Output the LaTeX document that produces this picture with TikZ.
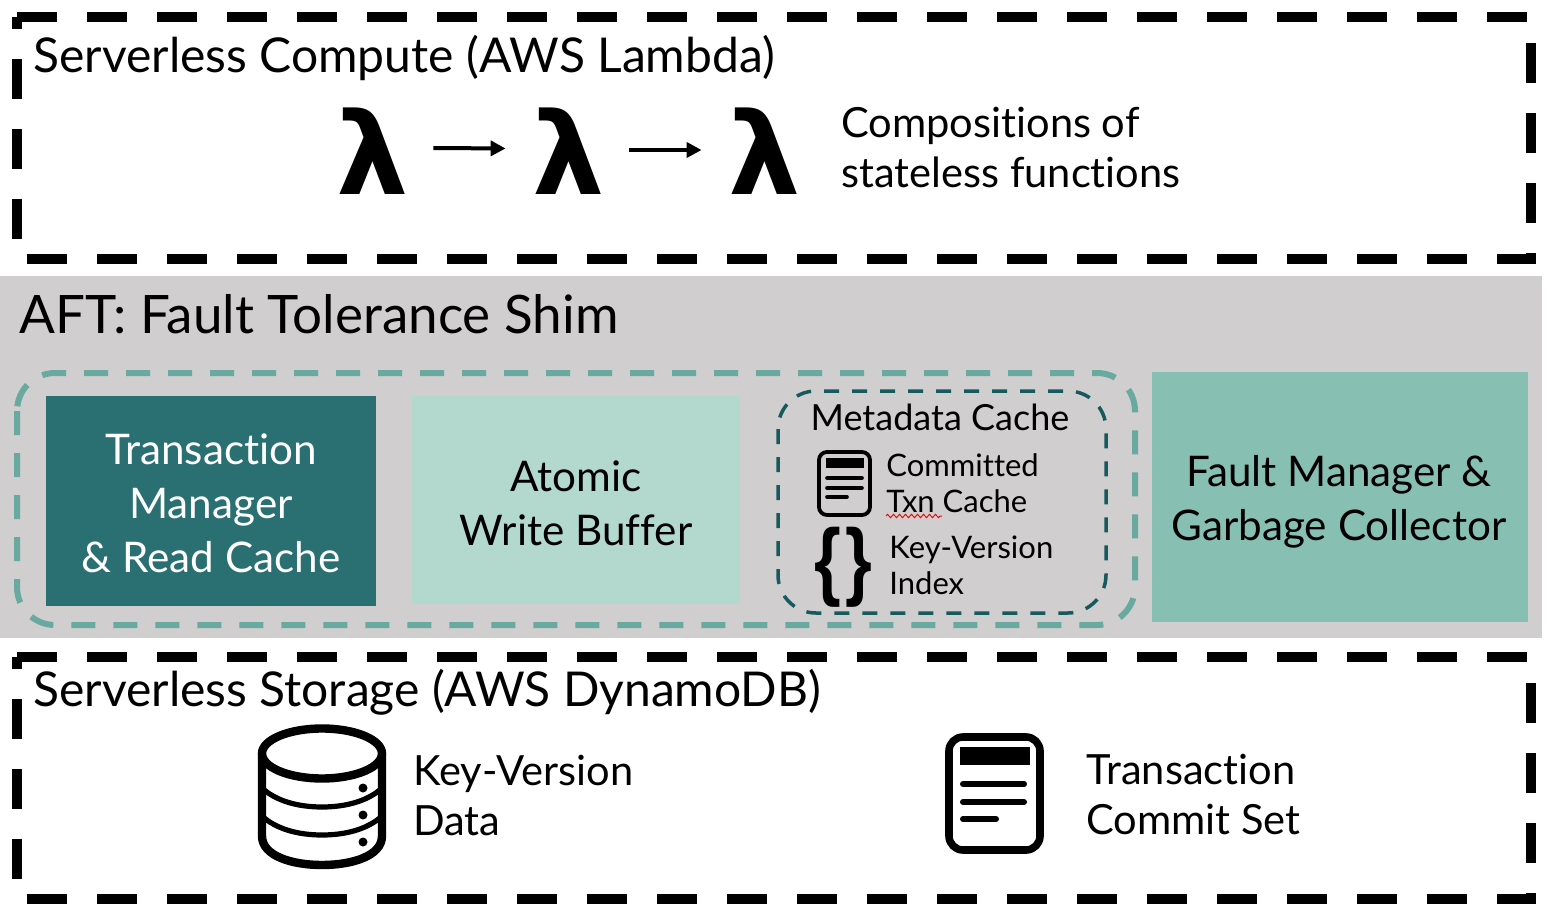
\documentclass[tikz,border=0pt]{standalone}
\usepackage{graphicx}
\usepackage{fontspec}
\setmainfont{Lato}[Ligatures={NoCommon,TeX}]
\newfontfamily\glyphfont{DejaVu Sans}[BoldFont=* Bold]
\newfontfamily\bracefont{Liberation Sans}[BoldFont=* Bold]
\usetikzlibrary{arrows.meta,decorations.pathmorphing}
\definecolor{shimgray}{HTML}{D0CECE}
\definecolor{outerteal}{HTML}{6AA9A0}
\definecolor{innerteal}{HTML}{165A5E}
\definecolor{tmteal}{HTML}{2A7072}
\definecolor{bufgreen}{HTML}{B3D9CE}
\definecolor{faultgreen}{HTML}{87BFB3}
\newcommand{\fs}[2]{\fontsize{#1pt}{#2pt}\selectfont}
\tikzset{
  x=0.5pt,y=-0.5pt,
  tierbox/.style={draw=black,line width=5pt,dash pattern=on 20pt off 15pt,line join=miter},
  title/.style={inner sep=0pt,text=black,font=\fs{24}{30}},
  note/.style={inner sep=0pt,align=left,text=black,font=\fs{20.8}{25}},
  small/.style={inner sep=0pt,align=left,text=black,font=\fs{15.5}{18}},
  boxlabel/.style={inner sep=0pt,align=center,font=\fs{21.1}{27}},
  lam/.style={inner sep=0pt,minimum width=60pt,text height=45pt,text depth=0pt,font=\glyphfont\bfseries\fs{57}{57}},
  flow/.style={draw=black,line width=2pt,-{Triangle[length=7.5pt,width=7.5pt]},shorten >=1.5pt},
  brace/.style={inner sep=0pt,font=\bracefont\bfseries\fs{43}{43}},
  icon/.style={draw=black,line cap=round,line join=round},
}
\begin{document}
\begin{tikzpicture}
\useasboundingbox (0,0) rectangle (1554,920);

% Compute tier
\draw[tierbox] (17,17) -- (1531,17) -- (1531,259) -- (17,259) -- (17,17);
\node[title,anchor=base west] (computetitle) at (33,73) {Serverless Compute (AWS Lambda)};
\node[lam] (l1) at (373,149) {λ};
\node[lam] (l2) at (569,149) {λ};
\node[lam] (l3) at (765,149) {λ};
\draw[flow] ([yshift=0.5pt]l1.east) -- ([yshift=0.25pt]l2.west);
\draw[flow] ([yshift=-0.5pt]l2.east) -- ([yshift=-0.5pt]l3.west);
\node[note,anchor=west] (computenote) at (841,147) {Compositions of\\stateless functions};

% Shim band
\fill[shimgray] (0,276) rectangle (1542,638);
\node[title,font=\fs{26.5}{30},anchor=base west] (shimtitle) at (19,333) {AFT: Fault Tolerance Shim};
\draw[outerteal,line width=3pt,dash pattern=on 12pt off 9pt,rounded corners=19pt] (17,373) rectangle (1135,625);
\fill[tmteal] (46,396) rectangle (376,606);
\node[boxlabel,text=white] (tm) at (211,503) {Transaction\\Manager\\\& Read Cache};
\fill[bufgreen] (412,396) rectangle (740,604);
\node[boxlabel] (awb) at (576,503) {Atomic\\Write Buffer};
\fill[faultgreen] (1152,372) rectangle (1528,622);
\node[boxlabel] (fm) at (1339,502) {Fault Manager \&\\Garbage Collector};

% Metadata cache
\draw[innerteal,line width=1.75pt,dash pattern=on 7.5pt off 6.5pt,rounded corners=19pt] (778,391) rectangle (1106,613);
\node[inner sep=0pt,font=\fs{18}{22}] (mdtitle) at (940,417) {Metadata Cache};
\draw[icon,line width=1.9pt,rounded corners=4pt] (819,452) rectangle (870,515);
\fill[black] (826,458) rectangle (864,468);
\draw[icon,line width=1.8pt] (827,478) -- (862,478);
\draw[icon,line width=1.8pt] (827,488) -- (862,488);
\draw[icon,line width=1.8pt] (827,497) -- (847,497);
\node[small,anchor=west] (txncache) at (886,483) {Committed\\Txn Cache};
\draw[red,line width=0.5pt,decorate,decoration={zigzag,segment length=3pt,amplitude=0.8pt}] (886,516) -- (942,516);
\node[brace] (bl) at (828,567) {\scalebox{0.8}[1]{\{}};
\node[brace] (br) at (859,567) {\scalebox{0.8}[1]{\}}};
\node[small,anchor=west] (kvindex) at (889,565) {Key-Version\\Index};

% Storage tier
\draw[tierbox] (17,657) -- (1531,657) -- (1531,899) -- (17,899) -- (17,657);
\node[title,anchor=base west] (storetitle) at (33,706) {Serverless Storage (AWS DynamoDB)};

% Database icon
\draw[icon,line width=4.2pt] (322,753.5) ellipse (60 and 25);
\draw[icon,line width=4.2pt] (262,754) -- (262,836) .. controls (262,856) and (292,865) .. (322,865) .. controls (352,865) and (382,856) .. (382,836) -- (382,754);
\draw[icon,line width=2.6pt] (262,788) .. controls (276,801) and (298,807) .. (322,807) .. controls (346,807) and (368,801) .. (382,788);
\draw[icon,line width=2.6pt] (262,816) .. controls (276,829) and (298,835) .. (322,835) .. controls (346,835) and (368,829) .. (382,816);
\fill[black] (363,788) circle (4.5);
\fill[black] (363,815) circle (4.5);
\fill[black] (363,842) circle (4.5);
\node[note,anchor=west] (kvdata) at (413,795) {Key-Version\\Data};

% Commit set icon
\draw[icon,line width=3.8pt,rounded corners=7pt] (949,737) rectangle (1040,850);
\fill[black] (960,747) rectangle (1030,765);
\draw[icon,line width=3pt] (963,784) -- (1024,784);
\draw[icon,line width=3pt] (963,802) -- (1024,802);
\draw[icon,line width=3pt] (963,819) -- (996,819);
\node[note,anchor=west] (commit) at (1086,794) {Transaction\\Commit Set};
\end{tikzpicture}
\end{document}
